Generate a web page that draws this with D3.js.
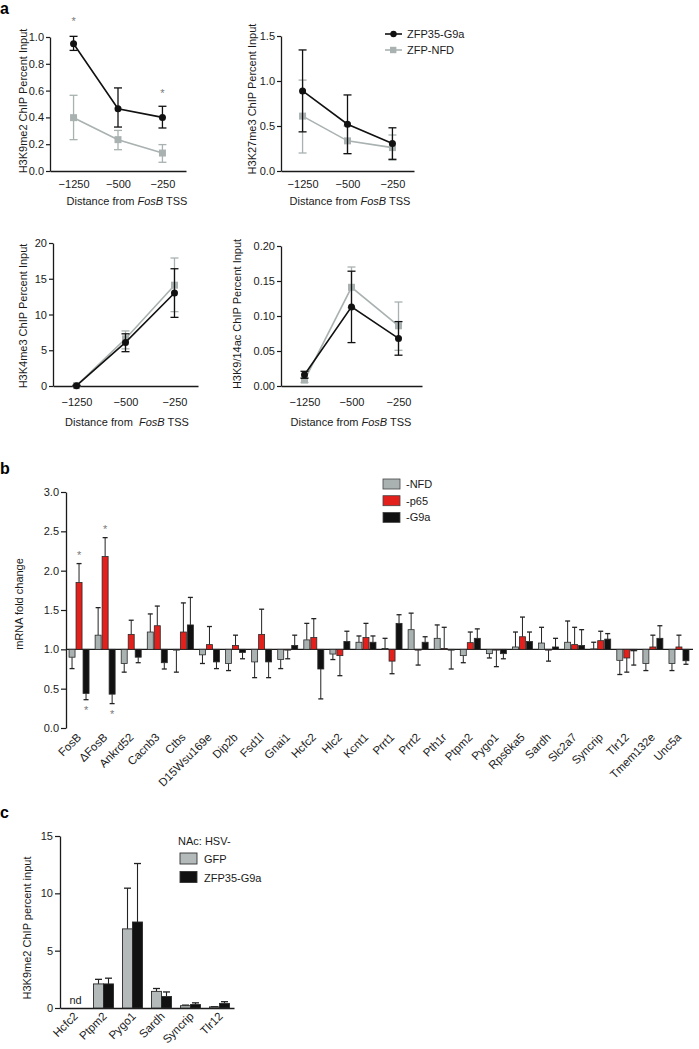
<!DOCTYPE html>
<html><head><meta charset="utf-8">
<script src="https://cdn.jsdelivr.net/npm/d3@7"></script>
<style>
body{margin:0;background:#fff}
svg{display:block}
text{font-family:"Liberation Sans",Arial,sans-serif}
</style>
</head><body>
<svg id="fig" width="699" height="1049"></svg>
<script>
// ---------------- DATA ----------------
// Panel a (distance from FosB TSS)
const lineCats = ["\u22121250", "\u2212500", "\u2212250"];
const seriesNames = ["ZFP35-G9a", "ZFP-NFD"];

const k9me2_G9a = [0.95, 0.465, 0.40];
const k9me2_G9a_hi = [1.005, 0.62, 0.483];
const k9me2_G9a_lo = [0.90, 0.328, 0.321];
const k9me2_NFD = [0.398, 0.234, 0.134];
const k9me2_NFD_hi = [0.565, 0.303, 0.197];
const k9me2_NFD_lo = [0.234, 0.159, 0.065];

const k27me3_G9a = [0.89, 0.52, 0.305];
const k27me3_G9a_hi = [1.345, 0.845, 0.48];
const k27me3_G9a_lo = [0.435, 0.193, 0.13];
const k27me3_NFD = [0.61, 0.335, 0.26];
const k27me3_NFD_hi = [1.01, 0.50, 0.40];
const k27me3_NFD_lo = [0.20, 0.193, 0.12];

const k4me3_G9a = [0.05, 6.1, 13.0];
const k4me3_G9a_hi = [0.1, 7.3, 16.4];
const k4me3_G9a_lo = [0.0, 4.8, 9.6];
const k4me3_NFD = [0.05, 6.6, 14.1];
const k4me3_NFD_hi = [0.1, 7.7, 17.9];
const k4me3_NFD_lo = [0.0, 5.2, 10.4];

const k914ac_G9a = [0.016, 0.113, 0.068];
const k914ac_G9a_hi = [0.021, 0.164, 0.092];
const k914ac_G9a_lo = [0.011, 0.062, 0.044];
const k914ac_NFD = [0.0085, 0.141, 0.086];
const k914ac_NFD_hi = [0.012, 0.170, 0.120];
const k914ac_NFD_lo = [0.005, 0.112, 0.051];

// Panel b (mRNA fold change); *_err = end of the error whisker
const genes = ["FosB","\u0394FosB","Ankrd52","Cacnb3","Ctbs","D15Wsu169e","Dip2b","Fsd1l","Gnai1","Hcfc2","Hlc2","Kcnt1","Prrt1","Prrt2","Pth1r","Ptpm2","Pygo1","Rps6ka5","Sardh","Slc2a7","Syncrip","Tlr12","Tmem132e","Unc5a"];
const barSeries = ["-NFD", "-p65", "-G9a"];
const nfd     = [0.90,1.18,0.82,1.22,0.99,0.93,0.82,0.84,0.87,1.12,0.94,1.09,1.01,1.25,1.14,0.92,0.945,1.03,1.08,1.09,1.005,0.86,0.82,0.82];
const nfd_err = [0.755,1.53,0.71,1.45,0.71,0.82,0.73,0.64,0.755,1.33,0.87,1.17,1.14,1.46,1.31,0.83,0.89,1.22,1.28,1.36,1.09,0.68,0.73,0.73];
const p65     = [1.85,2.18,1.19,1.30,1.22,1.06,1.05,1.19,0.99,1.15,0.92,1.15,0.85,0.99,1.01,1.085,0.99,1.16,0.99,1.06,1.11,0.89,1.03,1.03];
const p65_err = [2.09,2.42,1.37,1.55,1.59,1.29,1.18,1.51,0.88,1.39,0.665,1.33,0.69,0.80,1.28,1.22,0.78,1.41,0.85,1.28,1.23,0.71,1.18,1.18];
const g9a     = [0.44,0.43,0.90,0.83,1.31,0.84,0.96,0.84,1.05,0.75,1.10,1.09,1.33,1.09,0.99,1.14,0.945,1.10,1.03,1.05,1.13,0.98,1.14,0.855];
const g9a_err = [0.36,0.31,0.83,0.75,1.66,0.755,0.88,0.64,1.18,0.37,1.23,1.17,1.44,1.16,0.75,1.26,0.88,1.22,1.14,1.25,1.20,0.80,1.30,0.81];
const bTicks = [0, 0.5, 1.0, 1.5, 2.0, 2.5, 3.0];

// Panel c (H3K9me2 ChIP percent input)
const genesC = ["Hcfc2","Ptpm2","Pygo1","Sardh","Syncrip","Tlr12"];
const cSeries = ["GFP", "ZFP35-G9a"];
const gfp     = [null, 2.1, 6.9, 1.45, 0.2, 0.1];
const gfp_err = [null, 2.5, 10.45, 1.7, 0.25, 0.12];
const zfp     = [null, 2.1, 7.5, 1.0, 0.3, 0.4];
const zfp_err = [null, 2.6, 12.6, 1.4, 0.45, 0.55];
const cTicks = [0, 5, 10, 15];

// ---------------- DRAW ----------------
const svg = d3.select("#fig");
const GRAY = "#a9b1b1", GRAYC = "#b4baba", RED = "#e3201b", BLK = "#111111", AX = "#1a1a1a", TXT = "#1a1a1a", STAR = "#7a7a7a";

function txt(sel, size) {
  return sel.style("font-size", size + "px").style("fill", TXT);
}

function styleAxis(a, fs) {
  a.select(".domain").attr("stroke", AX).attr("stroke-width", 1.3);
  a.selectAll(".tick line").attr("stroke", AX).attr("stroke-width", 1.2);
  a.selectAll(".tick text").style("fill", TXT).style("font-size", fs + "px")
    .style("font-family", '"Liberation Sans",Arial,sans-serif');
}

function panelLetter(t, x, y) {
  svg.append("text").attr("x", x).attr("y", y).text(t)
    .style("font-size", "16px").style("font-weight", "bold").style("fill", "#000");
}

function lineChart(cfg) {
  const g = svg.append("g");
  const x = d3.scalePoint().domain(lineCats).range([cfg.x0, cfg.x1]).padding(cfg.pad);
  const y = d3.scaleLinear().domain(cfg.domain).range([cfg.y0, cfg.yTop]);
  const ya = g.append("g").attr("transform", `translate(${cfg.x0},0)`)
    .call(d3.axisLeft(y).tickValues(cfg.ticks).tickFormat(cfg.fmt).tickSize(4).tickSizeOuter(0).tickPadding(2));
  styleAxis(ya, 11);
  const xa = g.append("g").attr("transform", `translate(0,${cfg.y0})`)
    .call(d3.axisBottom(x).tickSize(0).tickSizeOuter(0).tickPadding(cfg.xPad));
  styleAxis(xa, 11);
  txt(g.append("text").attr("transform", `translate(${cfg.ylx},${cfg.yly}) rotate(-90)`)
    .attr("text-anchor", "middle").text(cfg.ylabel), 11);
  const t = txt(g.append("text").attr("x", cfg.xtx).attr("y", cfg.xty).attr("text-anchor", "middle")
    .attr("xml:space", "preserve"), 11);
  t.append("tspan").text(cfg.gap ? "Distance from  " : "Distance from ");
  t.append("tspan").style("font-style", "italic").text("FosB");
  t.append("tspan").text(" TSS");

  const series = [
    {v: cfg.nfd, hi: cfg.nfdHi, lo: cfg.nfdLo, col: GRAY, shape: "sq"},
    {v: cfg.g9a, hi: cfg.g9aHi, lo: cfg.g9aLo, col: BLK, shape: "ci"}
  ];
  series.forEach(s => {
    const pts = lineCats.map((c, i) => ({c, v: s.v[i], hi: s.hi[i], lo: s.lo[i]}));
    g.append("path").datum(pts)
      .attr("d", d3.line().x(d => x(d.c)).y(d => y(d.v)))
      .attr("fill", "none").attr("stroke", s.col).attr("stroke-width", 1.6);
    const eb = g.append("g").attr("stroke", s.col).attr("stroke-width", 1.3);
    pts.forEach(d => {
      eb.append("line").attr("x1", x(d.c)).attr("x2", x(d.c)).attr("y1", y(d.lo)).attr("y2", y(d.hi));
      eb.append("line").attr("x1", x(d.c) - 4).attr("x2", x(d.c) + 4).attr("y1", y(d.lo)).attr("y2", y(d.lo));
      eb.append("line").attr("x1", x(d.c) - 4).attr("x2", x(d.c) + 4).attr("y1", y(d.hi)).attr("y2", y(d.hi));
    });
    pts.forEach(d => {
      if (s.shape === "sq") {
        g.append("rect").attr("x", x(d.c) - 3.5).attr("y", y(d.v) - 3.5).attr("width", 7).attr("height", 7).attr("fill", s.col);
      } else {
        g.append("circle").attr("cx", x(d.c)).attr("cy", y(d.v)).attr("r", 3.5).attr("fill", s.col);
      }
    });
  });
  if (cfg.stars) {
    cfg.stars.forEach(st => {
      g.append("text").attr("x", x(lineCats[st.i])).attr("y", y(st.v) - 4).attr("text-anchor", "middle")
        .style("font-size", "11px").style("fill", STAR).text("*");
    });
  }
  return {x, y};
}

panelLetter("a", 0, 14);

lineChart({x0: 50, x1: 186, pad: 0.53, y0: 171, yTop: 37, domain: [0, 1.0], ticks: [0, 0.2, 0.4, 0.6, 0.8, 1.0], fmt: d3.format(".1f"),
  xPad: 9, ylx: 27, yly: 101, ylabel: "H3K9me2 ChIP Percent Input", xtx: 127, xty: 205,
  g9a: k9me2_G9a, g9aHi: k9me2_G9a_hi, g9aLo: k9me2_G9a_lo, nfd: k9me2_NFD, nfdHi: k9me2_NFD_hi, nfdLo: k9me2_NFD_lo,
  stars: [{i: 0, v: 1.06}, {i: 2, v: 0.52}]});

lineChart({x0: 281, x1: 414, pad: 0.48, y0: 171, yTop: 36, domain: [0, 1.5], ticks: [0, 0.5, 1.0, 1.5], fmt: d3.format(".1f"),
  xPad: 9, ylx: 256, yly: 99, ylabel: "H3K27me3 ChIP Percent Input", xtx: 350, xty: 205,
  g9a: k27me3_G9a, g9aHi: k27me3_G9a_hi, g9aLo: k27me3_G9a_lo, nfd: k27me3_NFD, nfdHi: k27me3_NFD_hi, nfdLo: k27me3_NFD_lo});

lineChart({x0: 53, x1: 198, pad: 0.48, y0: 386, yTop: 243, domain: [0, 20], ticks: [0, 5, 10, 15, 20], fmt: d3.format("d"),
  xPad: 12, ylx: 27, yly: 316, ylabel: "H3K4me3 ChIP Percent Input", xtx: 127, xty: 426, gap: true,
  g9a: k4me3_G9a, g9aHi: k4me3_G9a_hi, g9aLo: k4me3_G9a_lo, nfd: k4me3_NFD, nfdHi: k4me3_NFD_hi, nfdLo: k4me3_NFD_lo});

lineChart({x0: 281, x1: 422, pad: 0.5, y0: 386, yTop: 246, domain: [0, 0.2], ticks: [0, 0.05, 0.1, 0.15, 0.2], fmt: d3.format(".2f"),
  xPad: 12, ylx: 241, yly: 314, ylabel: "H3K9/14ac ChIP Percent Input", xtx: 351, xty: 426,
  g9a: k914ac_G9a, g9aHi: k914ac_G9a_hi, g9aLo: k914ac_G9a_lo, nfd: k914ac_NFD, nfdHi: k914ac_NFD_hi, nfdLo: k914ac_NFD_lo});

// legend panel a
(function(){
  const lg = svg.append("g");
  const items = [{n: seriesNames[0], col: BLK, sh: "ci"}, {n: seriesNames[1], col: GRAY, sh: "sq"}];
  items.forEach((it, i) => {
    const yy = 34 + i * 16;
    lg.append("line").attr("x1", 385).attr("x2", 402).attr("y1", yy).attr("y2", yy).attr("stroke", it.col).attr("stroke-width", 1.6);
    if (it.sh === "ci") lg.append("circle").attr("cx", 393.5).attr("cy", yy).attr("r", 3.2).attr("fill", it.col);
    else lg.append("rect").attr("x", 390).attr("y", yy - 3.2).attr("width", 6.4).attr("height", 6.4).attr("fill", it.col);
    txt(lg.append("text").attr("x", 407).attr("y", yy + 4).text(it.n), 11);
  });
})();

// ---------------- Panel b ----------------
panelLetter("b", 0, 474);
(function(){
  const g = svg.append("g");
  const x = d3.scaleBand().domain(genes).range([66, 692]);
  const y = d3.scaleLinear().domain([0, 3]).range([728, 492]);
  const ya = g.append("g").attr("transform", "translate(66,0)")
    .call(d3.axisLeft(y).tickValues(bTicks).tickFormat(d3.format(".1f")).tickSize(5).tickSizeOuter(0).tickPadding(2));
  styleAxis(ya, 11);
  g.append("line").attr("x1", 66).attr("x2", 693).attr("y1", y(1)).attr("y2", y(1)).attr("stroke", AX).attr("stroke-width", 1.3);

  const sets = [
    {v: nfd, e: nfd_err, col: GRAY, off: -7},
    {v: p65, e: p65_err, col: RED, off: 0},
    {v: g9a, e: g9a_err, col: BLK, off: 7}
  ];
  const bw = 6;
  sets.forEach(s => {
    genes.forEach((gn, i) => {
      const cx = x(gn) + x.bandwidth() / 2 + s.off;
      const v = s.v[i], e = s.e[i];
      g.append("line").attr("x1", cx).attr("x2", cx).attr("y1", y(v)).attr("y2", y(e)).attr("stroke", "#222").attr("stroke-width", 1);
      g.append("line").attr("x1", cx - 2.5).attr("x2", cx + 2.5).attr("y1", y(e)).attr("y2", y(e)).attr("stroke", "#222").attr("stroke-width", 1.3);
      g.append("rect").attr("x", cx - bw / 2).attr("width", bw)
        .attr("y", y(Math.max(v, 1))).attr("height", Math.max(0.6, Math.abs(y(v) - y(1))))
        .attr("fill", s.col).attr("stroke", "#2a2a2a").attr("stroke-width", 0.8);
    });
  });
  [{i: 0, s: 1, v: p65_err[0], up: true}, {i: 1, s: 1, v: p65_err[1], up: true},
   {i: 0, s: 2, v: g9a_err[0], up: false}, {i: 1, s: 2, v: g9a_err[1], up: false}].forEach(st => {
    const cx = x(genes[st.i]) + x.bandwidth() / 2 + sets[st.s].off;
    g.append("text").attr("x", cx).attr("y", st.up ? y(st.v) - 5 : y(st.v) + 14)
      .attr("text-anchor", "middle").style("font-size", "11px").style("fill", STAR).text("*");
  });
  genes.forEach(gn => {
    const cx = x(gn) + x.bandwidth() / 2;
    txt(g.append("text").attr("transform", `translate(${cx + 3},${738}) rotate(-45)`)
      .attr("text-anchor", "end").text(gn), 11.5);
  });
  txt(g.append("text").attr("transform", "translate(23,604) rotate(-90)").attr("text-anchor", "middle")
    .text("mRNA fold change"), 11);
  const cols = [GRAY, RED, BLK];
  barSeries.forEach((n, i) => {
    const yy = 479 + i * 16.7;
    g.append("rect").attr("x", 383).attr("y", yy).attr("width", 17).attr("height", 10)
      .attr("fill", cols[i]).attr("stroke", "#444").attr("stroke-width", 0.8);
    txt(g.append("text").attr("x", 406).attr("y", yy + 9).text(n), 11);
  });
})();

// ---------------- Panel c ----------------
panelLetter("c", 0, 818);
(function(){
  const g = svg.append("g");
  const x = d3.scaleBand().domain(genesC).range([60, 234]);
  const y = d3.scaleLinear().domain([0, 15]).range([1008, 836]);
  const ya = g.append("g").attr("transform", "translate(60,0)")
    .call(d3.axisLeft(y).tickValues(cTicks).tickFormat(d3.format("d")).tickSize(5).tickSizeOuter(0).tickPadding(2));
  styleAxis(ya, 11);
  const xa = g.append("g").attr("transform", "translate(0,1008)")
    .call(d3.axisBottom(x).tickSize(0).tickSizeOuter(0).tickFormat(""));
  styleAxis(xa, 11);
  const sets = [{v: gfp, e: gfp_err, col: GRAYC, off: -10}, {v: zfp, e: zfp_err, col: BLK, off: 0}];
  const bw = 10;
  sets.forEach(s => {
    genesC.forEach((gn, i) => {
      const v = s.v[i]; if (v == null) return;
      const cx = x(gn) + x.bandwidth() / 2 + s.off + bw / 2;
      g.append("line").attr("x1", cx).attr("x2", cx).attr("y1", y(v)).attr("y2", y(s.e[i])).attr("stroke", "#222").attr("stroke-width", 1.1);
      g.append("line").attr("x1", cx - 3.5).attr("x2", cx + 3.5).attr("y1", y(s.e[i])).attr("y2", y(s.e[i])).attr("stroke", "#222").attr("stroke-width", 1.3);
      g.append("rect").attr("x", cx - bw / 2).attr("width", bw).attr("y", y(v)).attr("height", y(0) - y(v))
        .attr("fill", s.col).attr("stroke", "#2a2a2a").attr("stroke-width", 0.9);
    });
  });
  txt(g.append("text").attr("x", x(genesC[0]) + x.bandwidth() / 2 + 1).attr("y", 1004).attr("text-anchor", "middle")
    .text("nd"), 11);
  genesC.forEach(gn => {
    const cx = x(gn) + x.bandwidth() / 2;
    txt(g.append("text").attr("transform", `translate(${cx + 4},${1017}) rotate(-45)`)
      .attr("text-anchor", "end").text(gn), 11.5);
  });
  txt(g.append("text").attr("transform", "translate(31,928) rotate(-90)").attr("text-anchor", "middle")
    .text("H3K9me2 ChIP percent input"), 11);
  txt(g.append("text").attr("x", 178).attr("y", 845).text("NAc: HSV-"), 11);
  const cols = [GRAYC, BLK];
  cSeries.forEach((n, i) => {
    const yy = 853 + i * 18.5;
    g.append("rect").attr("x", 180).attr("y", yy).attr("width", 17).attr("height", 11)
      .attr("fill", cols[i]).attr("stroke", "#333").attr("stroke-width", 0.9);
    txt(g.append("text").attr("x", 204).attr("y", yy + 10).text(n), 11);
  });
})();
</script>
</body></html>
